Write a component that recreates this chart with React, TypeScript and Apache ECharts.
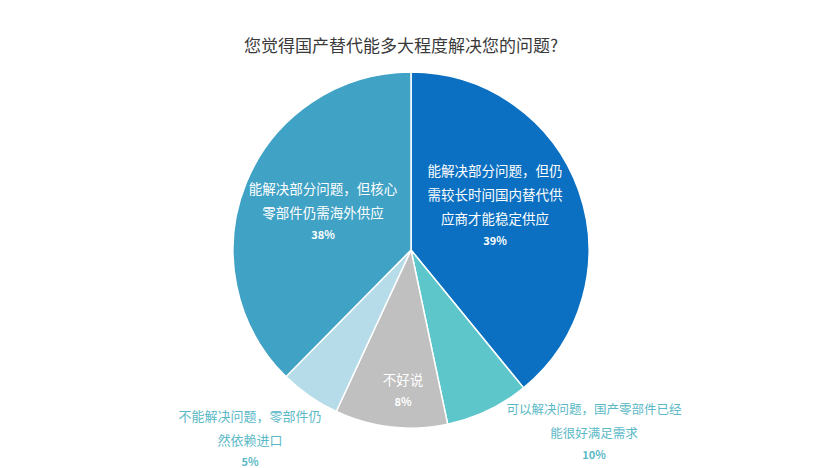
import React, { useEffect, useRef } from "react";
import * as echarts from "echarts";

const title = "您觉得国产替代能多大程度解决您的问题?";
const categories = [
  "能解决部分问题，但仍\n需较长时间国内替代供\n应商才能稳定供应",
  "可以解决问题，国产零部件已经\n能很好满足需求",
  "不好说",
  "不能解决问题，零部件仍\n然依赖进口",
  "能解决部分问题，但核心\n零部件仍需海外供应",
];
// slice shares as drawn in the picture
const sliceShares = [39.1, 7.6, 10.2, 5.5, 37.6];
// percentages as printed on the labels
const labelPercents = ["39%", "10%", "8%", "5%", "38%"];
const colors = ["#0B70C1", "#5CC6CA", "#C0C0C0", "#B5DCE8", "#40A2C5"];

const CX = 411;
const CY = 250;
const labelOffsets: [number, number][] = [
  [84, -46],
  [183, 180],
  [-8, 139],
  [-161, 187],
  [-88, -40],
];
const insideLabel = [true, false, true, false, true];

export default function App() {
  const ref = useRef<HTMLDivElement>(null);
  useEffect(() => {
    if (!ref.current) return;
    const chart = echarts.init(ref.current, null, { renderer: "svg" });
    const font = '"Noto Sans CJK SC", "Microsoft YaHei", sans-serif';
    const data = categories.map((name, i) => {
      const inside = insideLabel[i];
      const col = inside ? "#FFFFFF" : "#5AB9C6";
      const fs = inside ? 13.5 : i === 1 ? 12.5 : 13;
      return {
        name,
        value: sliceShares[i],
        itemStyle: { color: colors[i] },
        label: {
          position: inside ? "inside" : "outside",
          formatter: () =>
            name
              .split("\n")
              .map((l) => `{n|${l}}`)
              .join("\n") + `\n{p|${labelPercents[i]}}`,
          rich: {
            n: { color: col, fontSize: fs, lineHeight: 24, fontFamily: font },
            p: { color: col, fontSize: 11, lineHeight: 20, fontWeight: "bold", fontFamily: font },
          },
        },
      };
    });
    chart.setOption({
      animation: false,
      backgroundColor: "#FFFFFF",
      title: {
        text: title,
        left: 396,
        top: 31,
        textAlign: "center",
        textStyle: { fontSize: 17, fontWeight: "normal", color: "#3A3A3A", fontFamily: font },
      },
      series: [
        {
          type: "pie",
          center: [CX, CY],
          radius: 178,
          startAngle: 90,
          clockwise: true,
          itemStyle: { borderColor: "#FFFFFF", borderWidth: 1.5 },
          labelLine: { show: false },
          label: { show: true, textAlign: "center" },
          labelLayout: (params: any) => {
            const o = labelOffsets[params.dataIndex];
            return {
              x: CX + o[0],
              y: CY + o[1],
              align: "center",
              verticalAlign: "middle",
            };
          },
          emphasis: { disabled: true },
          data,
        },
      ],
    });
    return () => chart.dispose();
  }, []);
  return (
    <div
      ref={ref}
      style={{ position: "absolute", left: 0, top: 0, width: 820, height: 468, background: "#fff" }}
    />
  );
}
